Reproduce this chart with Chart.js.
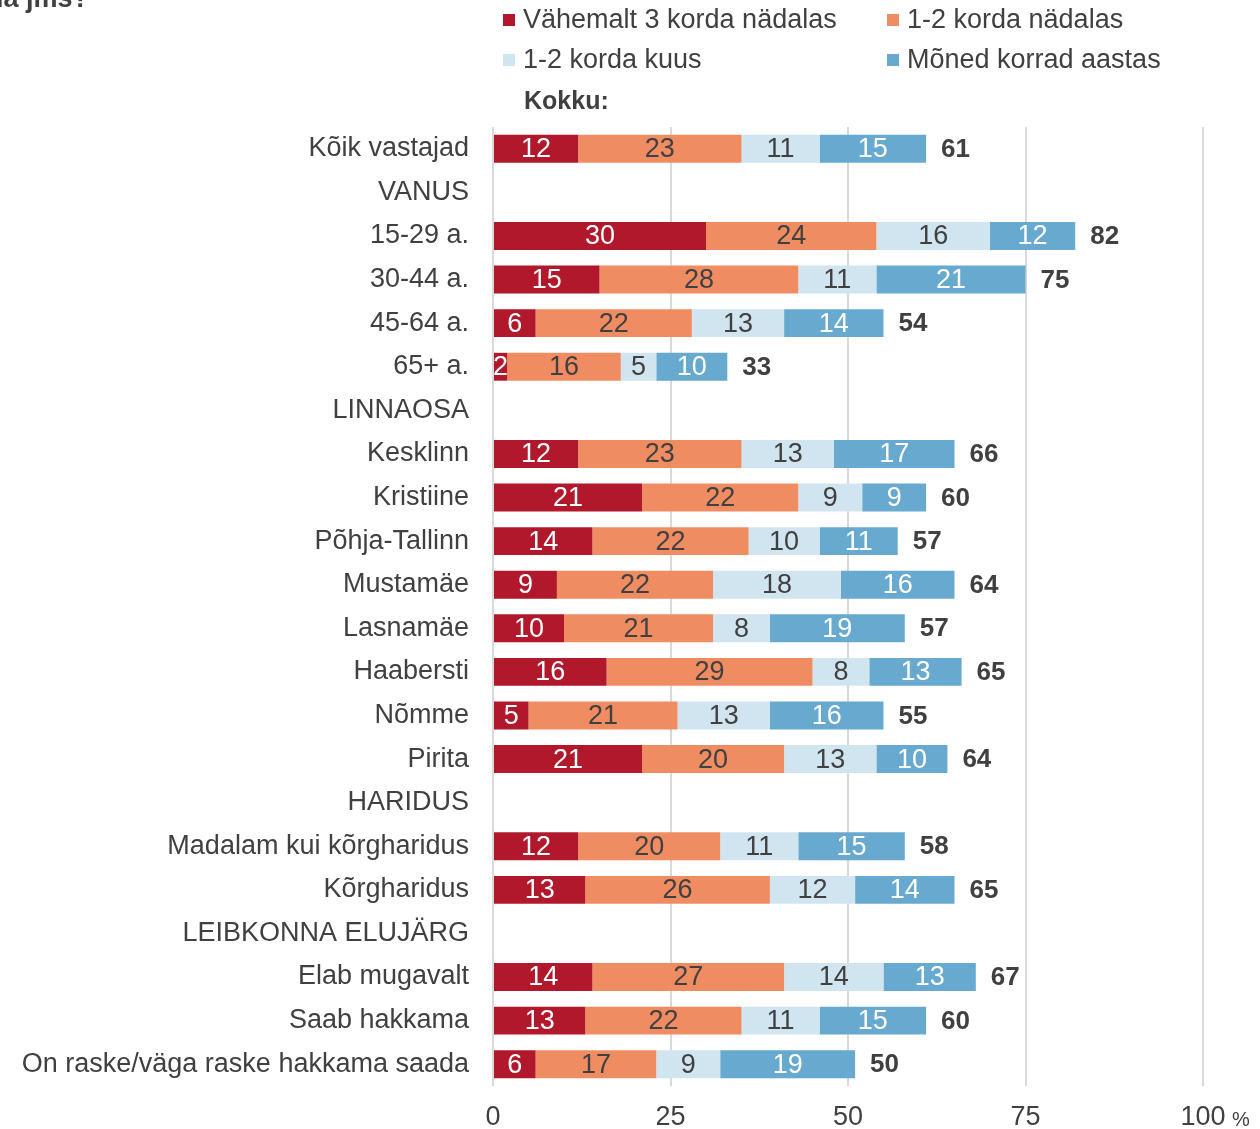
<!DOCTYPE html>
<html>
<head>
<meta charset="utf-8">
<script src="https://cdn.jsdelivr.net/npm/chart.js@4.4.1/dist/chart.umd.min.js"></script>
<style>
    html, body { margin: 0; padding: 0; background: #fff; }
    #wrap { position: relative; width: 1260px; height: 1129px; }
</style>
</head>
<body>
<div id="wrap"><canvas id="chart"></canvas></div>
<script>
const categories = [
    'Kõik vastajad', 'VANUS', '15-29 a.', '30-44 a.', '45-64 a.', '65+ a.',
    'LINNAOSA', 'Kesklinn', 'Kristiine', 'Põhja-Tallinn', 'Mustamäe', 'Lasnamäe',
    'Haabersti', 'Nõmme', 'Pirita', 'HARIDUS', 'Madalam kui kõrgharidus', 'Kõrgharidus',
    'LEIBKONNA ELUJÄRG', 'Elab mugavalt', 'Saab hakkama', 'On raske/väga raske hakkama saada'
];
const seriesNames = ['Vähemalt 3 korda nädalas', '1-2 korda nädalas', '1-2 korda kuus', 'Mõned korrad aastas'];

const atLeast3Weekly = [12, null, 30, 15, 6, 2, null, 12, 21, 14, 9, 10, 16, 5, 21, null, 12, 13, null, 14, 13, 6];
const weekly12       = [23, null, 24, 28, 22, 16, null, 23, 22, 22, 22, 21, 29, 21, 20, null, 20, 26, null, 27, 22, 17];
const monthly12      = [11, null, 16, 11, 13, 5, null, 13, 9, 10, 18, 8, 8, 13, 13, null, 11, 12, null, 14, 11, 9];
const fewPerYear     = [15, null, 12, 21, 14, 10, null, 17, 9, 11, 16, 19, 13, 16, 10, null, 15, 14, null, 13, 15, 19];
const totals         = [61, null, 82, 75, 54, 33, null, 66, 60, 57, 64, 57, 65, 55, 64, null, 58, 65, null, 67, 60, 50];

const xTicks = [0, 25, 50, 75, 100];

const colors = ['#b2182b', '#f08c62', '#d1e5f0', '#67a9cf'];
const labelColors = ['#ffffff', '#404040', '#404040', '#ffffff'];
const FONT = '"Liberation Sans", Arial, sans-serif';
const TEXT = '#404040';

const seriesData = [atLeast3Weekly, weekly12, monthly12, fewPerYear];

// numbers inside segments + bold totals after bars
const valueLabels = {
    id: 'valueLabels',
    afterDatasetsDraw(chart) {
        const ctx = chart.ctx;
        ctx.save();
        ctx.textBaseline = 'middle';
        ctx.font = '27px ' + FONT;
        ctx.textAlign = 'center';
        chart.data.datasets.forEach((ds, di) => {
            const meta = chart.getDatasetMeta(di);
            meta.data.forEach((bar, i) => {
                const v = ds.data[i];
                if (v === null || v === undefined) return;
                ctx.fillStyle = labelColors[di];
                ctx.fillText(String(v), (bar.x + bar.base) / 2, bar.y + 1);
            });
        });
        const last = chart.getDatasetMeta(chart.data.datasets.length - 1);
        ctx.font = 'bold 26px ' + FONT;
        ctx.textAlign = 'left';
        ctx.fillStyle = TEXT;
        last.data.forEach((bar, i) => {
            if (totals[i] === null) return;
            ctx.fillText(String(totals[i]), bar.x + 15, bar.y + 1);
        });
        ctx.restore();
    }
};

// 2x2 legend, "Kokku:", the % sign and the cut title at top-left
const extras = {
    id: 'extras',
    afterDraw(chart) {
        const ctx = chart.ctx;
        ctx.save();
        ctx.textBaseline = 'middle';
        ctx.textAlign = 'left';
        const colX = [503, 887];
        const rowY = [20, 60];
        chart.data.datasets.forEach((ds, i) => {
            const x = colX[i % 2];
            const y = rowY[Math.floor(i / 2)];
            ctx.fillStyle = ds.backgroundColor;
            ctx.fillRect(x, y - 6, 12, 12);
            ctx.fillStyle = TEXT;
            ctx.font = '27px ' + FONT;
            ctx.fillText(ds.label, x + 20, y + 1);
        });
        ctx.font = 'bold 25px ' + FONT;
        ctx.fillText('Kokku:', 524, 102);

        ctx.font = '20px ' + FONT;
        ctx.fillText('%', 1232, 1120);

        ctx.textBaseline = 'alphabetic';
        ctx.font = 'bold 27px ' + FONT;
        ctx.fillText('da jms?', -13, 7);
        ctx.restore();
    }
};

new Chart(document.getElementById('chart'), {
    type: 'bar',
    data: {
        labels: categories,
        datasets: seriesNames.map((name, i) => ({
            label: name,
            data: seriesData[i],
            backgroundColor: colors[i],
            borderWidth: 0,
            categoryPercentage: 1,
            barPercentage: 0.64
        }))
    },
    options: {
        indexAxis: 'y',
        responsive: true,
        maintainAspectRatio: false,
        animation: false,
        layout: { padding: { top: 127, right: 57, left: 0, bottom: 0 } },
        plugins: {
            legend: { display: false },
            tooltip: { enabled: false }
        },
        scales: {
            x: {
                stacked: true,
                min: 0,
                max: 100,
                afterBuildTicks: (scale) => { scale.ticks = xTicks.map(v => ({ value: v })); },
                afterFit: (scale) => { scale.height = 43; },
                grid: { color: '#d9d9d9', lineWidth: 2, drawTicks: false },
                border: { display: false },
                ticks: { color: TEXT, font: { family: FONT, size: 27 }, padding: 15, maxRotation: 0 }
            },
            y: {
                stacked: true,
                afterFit: (scale) => { scale.width = 493; },
                grid: { display: false, drawTicks: false },
                border: { display: false },
                ticks: { color: TEXT, font: { family: FONT, size: 27 }, padding: 24, autoSkip: false }
            }
        }
    },
    plugins: [valueLabels, extras]
});
</script>
</body>
</html>
